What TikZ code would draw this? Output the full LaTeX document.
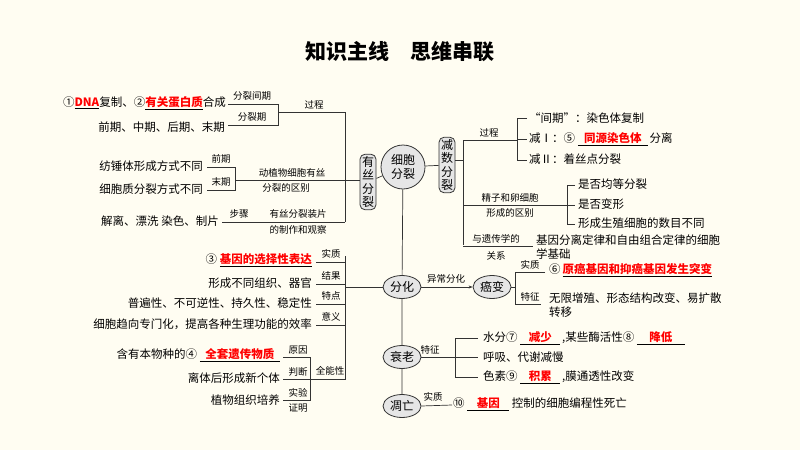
\documentclass[tikz,border=0pt]{standalone}
\usepackage{fontspec}
\setmainfont{Noto Sans CJK SC}
\usetikzlibrary{shapes.geometric,arrows.meta}
\definecolor{bg}{HTML}{FFFDF2}
\definecolor{boxg}{HTML}{E6E6E6}
\newcommand{\bk}[2]{\underline{\makebox[#1pt]{\color{red}\bfseries #2}}}
\tikzset{
 tx/.style={font=\fontsize{11.5}{14}\selectfont,inner sep=1pt},
 lb/.style={font=\fontsize{9.5}{11}\selectfont,inner sep=1pt},
 ln/.style={draw=black!80,line width=0.7pt},
 vbox/.style={draw=black!80,line width=0.8pt,fill=boxg,rounded corners=5pt,font=\fontsize{12}{13.5}\selectfont,align=center,inner sep=2pt,text width=12pt},
 ell/.style={ellipse,draw=black!80,line width=0.8pt,fill=boxg,font=\fontsize{12}{13}\selectfont,inner sep=1pt,minimum width=38pt,minimum height=23pt}
}
\begin{document}
\begin{tikzpicture}[x=1pt,y=-1pt]
\fill[bg] (0,0) rectangle (800,450);
\node[font=\fontsize{21}{23}\selectfont\bfseries] (title) at (400,52) {知识主线\quad 思维串联};

% centre
\node[vbox] (ysf) at (368,182) {有\\丝\\分\\裂};
\node[circle,draw=black!80,line width=0.8pt,fill=boxg,font=\fontsize{12}{13.5}\selectfont,align=center,inner sep=1pt,minimum size=44pt] (xbfl) at (403,167) {细胞\\分裂};
\node[vbox] (jsf) at (447,165) {减\\数\\分\\裂};
\node[ell] (fh) at (402,287) {分化};
\node[ell] (ab) at (492,287) {癌变};
\node[ell] (sl) at (402,357) {衰老};
\node[ell] (dw) at (402,406) {凋亡};
\draw[ln] (ysf) -- (xbfl) -- (jsf);
\draw[ln] (xbfl) -- (fh) -- (sl) -- (dw);
\draw[ln,-{Stealth[length=4pt]}] (fh) -- (ab);
\node[lb] (ycfh) at (446,279) {异常分化};

% mitosis tree
\draw[ln] (345,112) -- (345,222);
\draw[ln] (345,180) -- (ysf.west|-0,180);
\draw[ln] (278,112) -- (345,112);
\node[lb] (gc1) at (314,105) {过程};
\draw[ln] (228,104) -- (278,104) -- (278,125) -- (228,125);
\node[lb] (fljq) at (252,96) {分裂间期};
\node[lb] (flq) at (252,117) {分裂期};
\node[tx,anchor=east] (t1) at (227,103) {①\underline{\color{red}\bfseries DNA}复制、②\underline{\color{red}\bfseries 有关蛋白质}合成};
\node[tx,anchor=east] (t2) at (226,127) {前期、中期、后期、末期};

\draw[ln] (235,180) -- (345,180);
\node[lb] (dzw1) at (292,173) {动植物细胞有丝};
\node[lb] (dzw2) at (286,188) {分裂的区别};
\draw[ln] (207,167) -- (235,167) -- (235,190) -- (207,190);
\node[lb] (qq) at (221,159) {前期};
\node[lb] (mq) at (221,182) {末期};
\node[tx,anchor=east] (t3) at (204,166) {纺锤体形成方式不同};
\node[tx,anchor=east] (t4) at (204,189) {细胞质分裂方式不同};

\draw[ln] (222,222) -- (345,222);
\node[lb] (bz) at (239,214) {步骤};
\node[lb] (zp1) at (298,214) {有丝分裂装片};
\node[lb] (zp2) at (298,230) {的制作和观察};
\node[tx,anchor=east] (t5) at (220,221) {解离、漂洗\ 染色、制片};

% differentiation tree
\draw[ln] (345,256) -- (345,380);
\draw[ln] (345,287) -- (fh.west);
\foreach \y/\l/\n in {262/实质/a,284/结果/b,304/特点/c,325/意义/d}{
  \draw[ln] (316,\y) -- (345,\y);
  \node[lb] (fl\n) at (331,\y-8) {\l};
}
\node[tx,anchor=east] (t6) at (313,260) {③\ \bk{92}{基因的选择性表达}};
\node[tx,anchor=east] (t7) at (313,283) {形成不同组织、器官};
\node[tx,anchor=east] (t8) at (313,303) {普遍性、不可逆性、持久性、稳定性};
\node[tx,anchor=east] (t9) at (313,324) {细胞趋向专门化，提高各种生理功能的效率};
\draw[ln] (310,379) -- (345,379);
\node[lb] (qnx) at (330,371) {全能性};
\draw[ln] (283,357) -- (310,357) -- (310,400) -- (283,400);
\draw[ln] (283,379) -- (310,379);
\node[lb] (yy) at (298,350) {原因};
\node[lb] (pd) at (298,372) {判断};
\node[lb] (sy) at (298,393) {实验};
\node[lb] (zm) at (298,408) {证明};
\node[tx,anchor=east] (t10) at (281,355) {含有本物种的④\ \bk{80}{全套遗传物质}};
\node[tx,anchor=east] (t11) at (281,378) {离体后形成新个体};
\node[tx,anchor=east] (t12) at (281,400) {植物组织培养};

% meiosis tree
\draw[ln] (463,140) -- (463,245);
\draw[ln] (jsf.east|-0,160) -- (463,160);
\draw[ln] (463,140) -- (517,140);
\node[lb] (gc2) at (489,133) {过程};
\draw[ln] (527,118) -- (517,118) -- (517,160) -- (527,160);
\draw[ln] (517,139) -- (527,139);
\node[tx,anchor=west] (t13) at (528,118) {“间期”：染色体复制};
\node[tx,anchor=west] (t14) at (528,139) {减Ⅰ：⑤\ \bk{70}{同源染色体}\,分离};
\node[tx,anchor=west] (t15) at (528,159) {减Ⅱ：着丝点分裂};
\draw[ln] (463,205) -- (567,205);
\node[lb] (jz1) at (510,198) {精子和卵细胞};
\node[lb] (jz2) at (510,213) {形成的区别};
\draw[ln] (575,185) -- (567,185) -- (567,224) -- (575,224);
\draw[ln] (567,205) -- (575,205);
\node[tx,anchor=west] (t16) at (577,184) {是否均等分裂};
\node[tx,anchor=west] (t17) at (577,204) {是否变形};
\node[tx,anchor=west] (t18) at (577,223) {形成生殖细胞的数目不同};
\draw[ln] (463,246) -- (533,246);
\node[lb] (yc1) at (496,239) {与遗传学的};
\node[lb] (yc2) at (496,256) {关系};
\node[tx,anchor=west,align=left] (t19) at (535,247) {基因分离定律和自由组合定律的细胞\\学基础};

% cancer
\draw[ln] (ab.east) -- (515,287);
\draw[ln] (545,272) -- (515,272) -- (515,304) -- (541,304);
\node[lb] (sz2) at (530,265) {实质};
\node[lb] (tz1) at (530,297) {特征};
\node[tx,anchor=west] (t20) at (548,270) {⑥\,\underline{\color{red}\bfseries 原癌基因和抑癌基因发生突变}};
\node[tx,anchor=west,align=left] (t21) at (548,305) {无限增殖、形态结构改变、易扩散\\转移};

% aging
\draw[ln] (sl.east) -- (455,357);
\node[lb] (tz2) at (430,350) {特征};
\draw[ln] (478,338) -- (455,338) -- (455,377) -- (478,377);
\draw[ln] (455,357) -- (478,357);
\node[tx,anchor=west] (t22) at (482,338) {水分⑦\ \bk{40}{减少}\,,某些酶活性⑧\ \bk{48}{降低}};
\node[tx,anchor=west] (t23) at (482,357) {呼吸、代谢减慢};
\node[tx,anchor=west] (t24) at (482,377) {色素⑨\ \bk{40}{积累}\,,膜通透性改变};

% apoptosis
\draw[ln] (dw.east) -- (452,405);
\node[lb] (sz3) at (433,397) {实质};
\node[tx,anchor=west] (t25) at (452,404) {⑩\ \bk{42}{基因}\ 控制的细胞编程性死亡};
\end{tikzpicture}
\end{document}
